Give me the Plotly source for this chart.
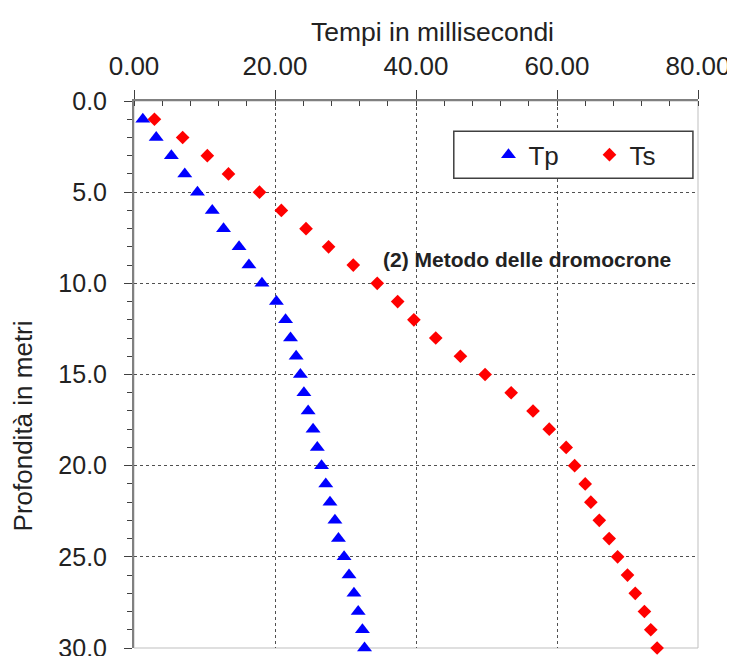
import plotly.graph_objects as go

depth = list(range(1, 31))
tp = [1.25, 3.15, 5.3, 7.2, 9.0, 11.1, 12.7, 14.9, 16.3, 18.15,
      20.2, 21.5, 22.2, 23.0, 23.6, 24.1, 24.7, 25.4, 26.0, 26.6,
      27.2, 27.8, 28.5, 29.0, 29.8, 30.5, 31.2, 31.8, 32.4, 32.7]
ts = [2.9, 6.9, 10.4, 13.4, 17.8, 20.9, 24.4, 27.6, 31.1, 34.5,
      37.4, 39.7, 42.8, 46.3, 49.8, 53.5, 56.6, 58.9, 61.3, 62.5,
      64.0, 64.8, 66.0, 67.4, 68.6, 70.0, 71.1, 72.4, 73.3, 74.2]
x_ticks = [0, 20, 40, 60, 80]
y_ticks = [0, 5, 10, 15, 20, 25, 30]

FONT = "Liberation Sans, Arial, sans-serif"

fig = go.Figure()
fig.add_trace(go.Scatter(x=tp, y=depth, mode="markers", name="Tp",
                         marker=dict(symbol="triangle-up", size=13, color="#0000FF"),
                         cliponaxis=False))
fig.add_trace(go.Scatter(x=ts, y=depth, mode="markers", name="Ts",
                         marker=dict(symbol="diamond", size=10.5, color="#FF0000"),
                         cliponaxis=False))

fig.update_layout(
    width=735, height=656,
    margin=dict(l=126, r=45, t=93, b=16, autoexpand=False),
    paper_bgcolor="white", plot_bgcolor="white",
    font=dict(family=FONT, color="#222"),
    showlegend=True,
    legend=dict(orientation="h", x=0.6285, xanchor="left", y=0.9017, yanchor="middle",
                borderwidth=0, bgcolor="rgba(0,0,0,0)",
                font=dict(size=26, family=FONT, color="#222"),
                entrywidth=56, indentation=0),
    shapes=[
        dict(type="rect", xref="paper", yref="paper", x0=0, x1=1, y0=0, y1=1,
             line=dict(color="#BFBFBF", width=1), layer="below"),
        dict(type="rect", xref="paper", yref="paper", x0=0.567, x1=0.991,
             y0=0.8588, y1=0.9446, line=dict(color="#404040", width=1.5),
             fillcolor="white", layer="above"),
    ],
    annotations=[
        dict(text="<b>(2) Metodo delle dromocrone</b>", x=35.1, y=8.7, xref="x", yref="y",
             xanchor="left", yanchor="middle", showarrow=False,
             font=dict(size=21, family=FONT, color="#222")),
        dict(text="Tempi in millisecondi", x=42.4, y=1.127, xref="x", yref="paper",
             xanchor="center", yanchor="middle", showarrow=False,
             font=dict(size=26.5, family=FONT, color="#222")),
        dict(text="Profondità in metri", x=-0.197, y=17.8, xref="paper", yref="y",
             xanchor="center", yanchor="middle", showarrow=False, textangle=-90,
             font=dict(size=26, family=FONT, color="#222")),
    ],
)

fig.update_xaxes(side="top", range=[0, 80], tickvals=x_ticks, tickformat=".2f",
                 automargin=False,
                 tickfont=dict(size=26, family=FONT, color="#222"),
                 showline=True, linecolor="#808080", linewidth=2,
                 ticks="outside", ticklen=9, tickcolor="#404040", tickwidth=1,
                 ticklabelstandoff=5,
                 showgrid=True, gridcolor="#505050", gridwidth=1, griddash="dot",
                 zeroline=False,
                 minor=dict(dtick=4, ticks="inside", ticklen=5, tickcolor="#404040",
                            showgrid=False))
fig.update_yaxes(range=[30, 0], tickvals=y_ticks, tickformat=".1f",
                 automargin=False,
                 tickfont=dict(size=25, family=FONT, color="#222"),
                 showline=True, linecolor="#808080", linewidth=2,
                 ticks="outside", ticklen=8, tickcolor="#404040", tickwidth=1,
                 ticklabelstandoff=12,
                 showgrid=True, gridcolor="#505050", gridwidth=1, griddash="dot",
                 zeroline=False,
                 minor=dict(dtick=1, ticks="outside", ticklen=5, tickcolor="#404040",
                            showgrid=False))

fig.write_html("out.html")
